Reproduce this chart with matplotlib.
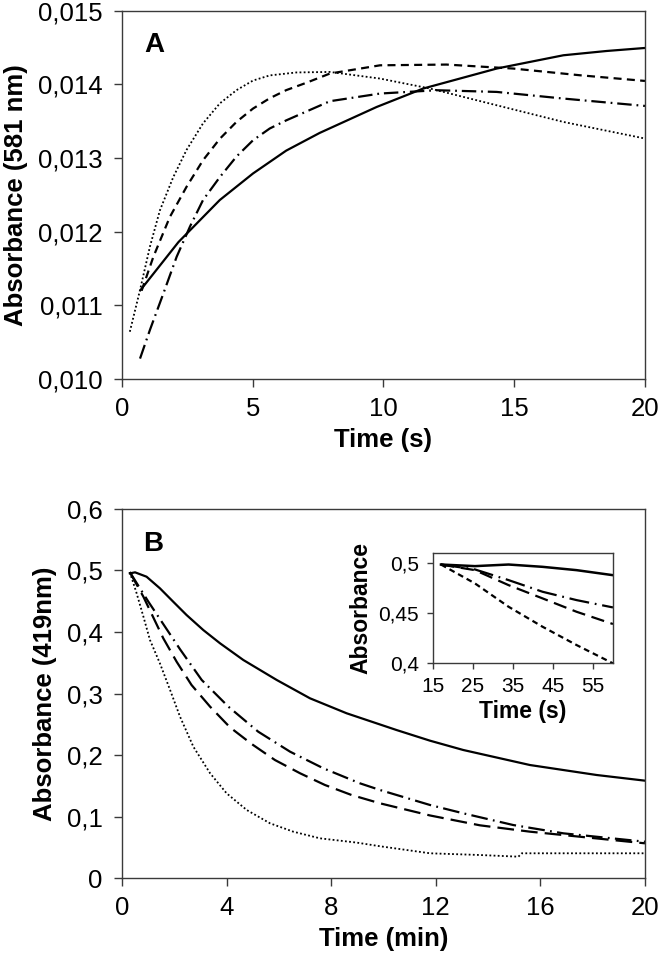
import matplotlib
matplotlib.use("Agg")
import matplotlib.pyplot as plt

plt.rcParams["font.family"] = ["Liberation Sans", "DejaVu Sans"]

# ---- panel A: absorbance at 581 nm vs time (s)
a_solid_t = [0.71, 2.16, 3.74, 5.01, 6.28, 7.56, 9.74, 11.52, 14.33, 16.88, 18.53, 20.0]
a_solid_y = [0.01121, 0.01186, 0.01243, 0.01279, 0.01310, 0.01334, 0.013692,
             0.013942, 0.014213, 0.014393, 0.014451, 0.014492]
a_dot_t = [0.30, 0.69, 1.07, 1.45, 1.96, 2.47, 3.1, 3.74, 4.38, 5.01, 5.65, 6.67, 7.95,
           9.87, 11.78, 14.33, 16.88, 20.0]
a_dot_y = [0.010644, 0.01121, 0.0118, 0.01229, 0.01274, 0.01311, 0.01347, 0.01374, 0.01392,
           0.01405, 0.01412, 0.01416, 0.014167, 0.014077, 0.013942, 0.013715, 0.013489, 0.013264]
a_dash_t = [0.75, 1.2, 1.83, 2.47, 3.1, 3.74, 4.38, 5.01, 5.65, 6.28, 7.05, 7.95, 9.87,
            12.41, 14.96, 17.51, 20.0]
a_dash_y = [0.0112, 0.01166, 0.0122, 0.01261, 0.01297, 0.01326, 0.01349, 0.01367, 0.01381,
            0.01392, 0.01402, 0.014145, 0.014257, 0.014267, 0.014213, 0.014122, 0.014045]
a_dd_t = [0.69, 1.07, 1.58, 2.09, 2.6, 3.1, 3.74, 4.38, 5.01, 5.65, 6.28, 7.05, 7.95, 9.87,
          12.03, 14.33, 16.88, 20.0]
a_dd_y = [0.01028, 0.01067, 0.01116, 0.01166, 0.01207, 0.01243, 0.01274, 0.01302, 0.01324,
          0.0134, 0.01351, 0.01363, 0.01377, 0.013874, 0.013919, 0.013896, 0.013806, 0.013706]
a_xticks = [0, 5, 10, 15, 20]
a_yticks = [0.010, 0.011, 0.012, 0.013, 0.014, 0.015]
a_yticklabels = ["0,010", "0,011", "0,012", "0,013", "0,014", "0,015"]

# ---- panel B: absorbance at 419 nm vs time (min)
b_solid_t = [0.3, 0.5, 0.94, 1.45, 1.96, 2.47, 3.11, 3.75, 4.64, 5.92, 7.19, 8.59,
             10.5, 11.78, 13.05, 15.6, 18.15, 20.0]
b_solid_y = [0.495, 0.4967, 0.4896, 0.4708, 0.449, 0.4274, 0.403, 0.3815, 0.3544, 0.3219,
             0.2922, 0.2679, 0.2407, 0.2234, 0.2083, 0.1839, 0.1677, 0.1585]
b_dd_t = [0.3, 1.01, 2.22, 3.05, 4.07, 5.21, 6.43, 7.7, 9.1, 9.87, 11.78, 13.05, 14.96,
          16.88, 20.0]
b_dd_y = [0.497, 0.449, 0.3718, 0.3219, 0.2786, 0.238, 0.2055, 0.1786, 0.1542, 0.1433,
          0.119, 0.1055, 0.0865, 0.073, 0.0594]
b_dash_t = [0.3, 0.82, 1.58, 2.09, 2.66, 3.37, 4.13, 4.96, 5.85, 6.81, 7.76, 8.78, 9.87,
            11.78, 13.69, 15.6, 17.51, 20.0]
b_dash_y = [0.497, 0.457, 0.3896, 0.3516, 0.3138, 0.2786, 0.2451, 0.218, 0.192, 0.1705,
            0.1515, 0.1352, 0.1217, 0.102, 0.086, 0.0757, 0.0675, 0.0568]
b_dot_t = [0.3, 0.56, 0.82, 1.07, 1.45, 1.84, 2.22, 2.73, 3.37, 4.0, 4.77, 5.66, 6.55,
           7.57, 8.97, 9.87, 11.78, 13.69, 15.16, 15.29, 20.0]
b_dot_y = [0.497, 0.4627, 0.4247, 0.3869, 0.349, 0.3057, 0.2623, 0.2136, 0.1705, 0.138,
           0.1109, 0.0893, 0.0757, 0.0649, 0.058, 0.052, 0.0406, 0.0378, 0.0351, 0.0406,
           0.0406]
b_xticks = [0, 4, 8, 12, 16, 20]
b_yticks = [0, 0.1, 0.2, 0.3, 0.4, 0.5, 0.6]
b_yticklabels = ["0", "0,1", "0,2", "0,3", "0,4", "0,5", "0,6"]

# ---- inset of B: first minute (s)
in_t = [17, 25.5, 33.9, 42.4, 50.9, 60]
in_solid = [0.4983, 0.4967, 0.4983, 0.496, 0.4927, 0.4877]
in_dd = [0.4983, 0.4934, 0.4828, 0.4712, 0.4629, 0.4556]
in_dash = [0.4983, 0.4927, 0.4778, 0.4646, 0.4513, 0.4391]
in_sdash = [0.4983, 0.4795, 0.4563, 0.4364, 0.4182, 0.40]
in_xticks = [15, 25, 35, 45, 55]
in_yticks = [0.4, 0.45, 0.5]
in_yticklabels = ["0,4", "0,45", "0,5"]

SPINE = "#3a3a3a"


def style_axes(ax, tick_size, tick_len, xpad, ypad):
    for s in ax.spines.values():
        s.set_color(SPINE)
        s.set_linewidth(1.0)
    ax.tick_params(direction="out", length=tick_len, width=1.0, color=SPINE,
                   labelsize=tick_size, top=False, right=False)
    ax.tick_params(axis="x", pad=xpad)
    ax.tick_params(axis="y", pad=ypad)


fig = plt.figure(figsize=(6.59, 9.64), dpi=100)

# panel A
axA = fig.add_axes([0.1851, 0.6066, 0.7936, 0.3825])
axA.plot(a_solid_t, a_solid_y, color="black", lw=1.6, ls="-")
axA.plot(a_dash_t, a_dash_y, color="black", lw=1.6, ls=(0, (3.6, 2.4)))
axA.plot(a_dd_t, a_dd_y, color="black", lw=1.6, ls=(0, (6.5, 2.2, 0.8, 2.2)))
axA.plot(a_dot_t, a_dot_y, color="black", lw=1.3, ls=(0, (1.0, 1.3)))
axA.set_xlim(0, 20)
axA.set_ylim(0.010, 0.015)
axA.set_xticks(a_xticks)
axA.set_yticks(a_yticks)
axA.set_yticklabels(a_yticklabels)
style_axes(axA, 18.5, 6, 7, 8)
axA.set_xlabel("Time (s)", fontsize=18.5, fontweight="bold", labelpad=5)
axA.set_ylabel("Absorbance (581 nm)", fontsize=18.5, fontweight="bold", labelpad=7)
axA.text(0.042, 0.887, "A", transform=axA.transAxes, fontsize=20, fontweight="bold",
         ha="left", va="baseline")

# panel B
axB = fig.add_axes([0.1851, 0.0889, 0.7936, 0.3834])
axB.plot(b_solid_t, b_solid_y, color="black", lw=1.6, ls="-")
axB.plot(b_dd_t, b_dd_y, color="black", lw=1.6, ls=(0, (7.5, 2.4, 0.8, 2.4)))
axB.plot(b_dash_t, b_dash_y, color="black", lw=1.6, ls=(0, (7.5, 3.2)))
axB.plot(b_dot_t, b_dot_y, color="black", lw=1.3, ls=(0, (1.0, 1.3)))
axB.set_xlim(0, 20)
axB.set_ylim(0, 0.6)
axB.set_xticks(b_xticks)
axB.set_yticks(b_yticks)
axB.set_yticklabels(b_yticklabels)
style_axes(axB, 18.5, 6, 7, 8)
axB.set_xlabel("Time (min)", fontsize=18.5, fontweight="bold", labelpad=5)
axB.set_ylabel("Absorbance (419nm)", fontsize=18.5, fontweight="bold", labelpad=7)
axB.text(0.040, 0.886, "B", transform=axB.transAxes, fontsize=20, fontweight="bold",
         ha="left", va="baseline")

# inset
axI = fig.add_axes([0.657, 0.3119, 0.2731, 0.1147])
axI.plot(in_t, in_solid, color="black", lw=1.8, ls="-")
axI.plot(in_t, in_dd, color="black", lw=1.6, ls=(0, (9.0, 2.6, 0.8, 2.6)))
axI.plot(in_t, in_dash, color="black", lw=1.6, ls=(0, (6.0, 3.0)))
axI.plot(in_t, in_sdash, color="black", lw=1.6, ls=(0, (2.6, 1.8)))
axI.set_xlim(15, 60)
axI.set_ylim(0.4, 0.51)
axI.set_xticks(in_xticks)
axI.set_yticks(in_yticks)
axI.set_yticklabels(in_yticklabels)
style_axes(axI, 15, 4, 6, 6)
axI.set_xlabel("Time (s)", fontsize=16.5, fontweight="bold", labelpad=3)
axI.set_ylabel("Absorbance", fontsize=16.5, fontweight="bold", labelpad=4)

fig.savefig("out.png", dpi=100)
